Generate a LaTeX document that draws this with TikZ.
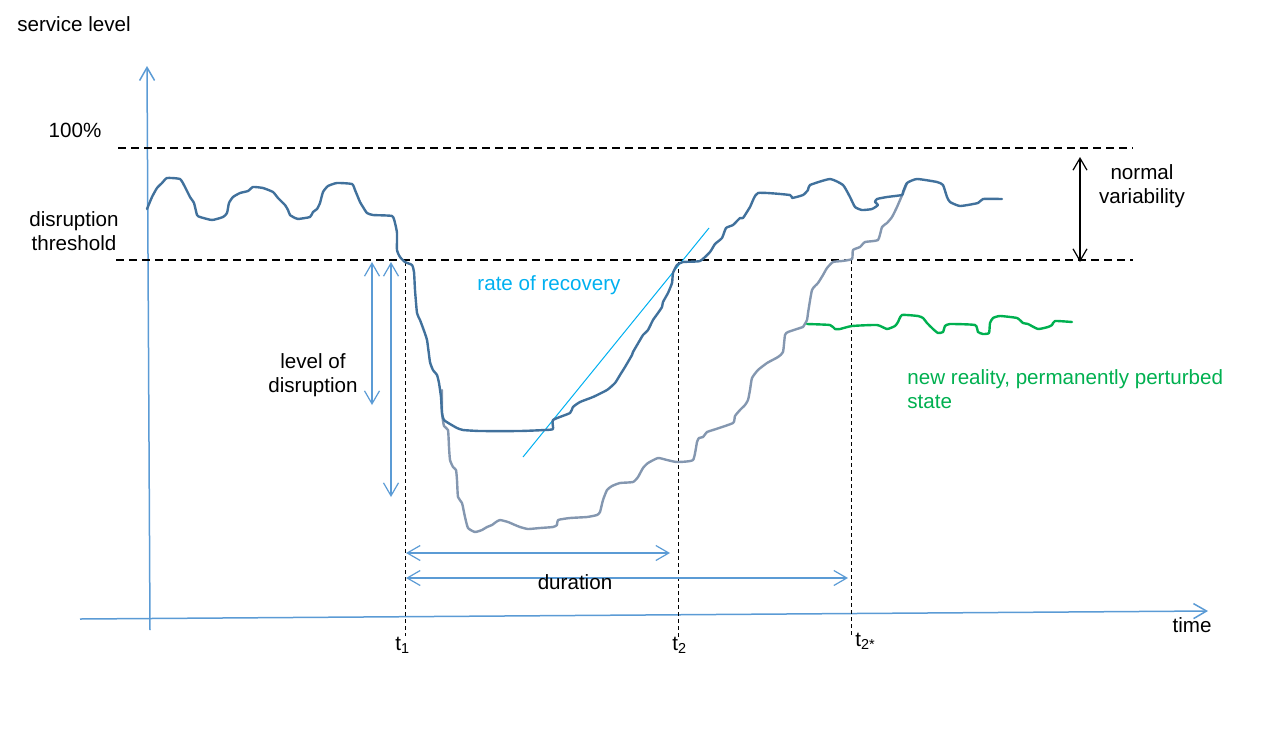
\documentclass[tikz,border=0pt]{standalone}
\usepackage{fontspec}
\setmainfont{Liberation Sans}
\usetikzlibrary{arrows.meta,positioning}
\definecolor{axisblue}{HTML}{5B9BD5}
\definecolor{curveblue}{HTML}{41719C}
\definecolor{curvegrey}{HTML}{8497B0}
\definecolor{recoverycyan}{HTML}{00B0F0}
\definecolor{realitygreen}{HTML}{00B050}
\tikzset{font=\fontsize{10.3}{12}\selectfont}
\tikzset{every node/.append style={inner sep=0pt, align=center}}

\begin{document}
\begin{tikzpicture}[x=0.5pt, y=-0.5pt,
  axis/.style={axisblue, line width=.75pt, -{Straight Barb[length=6.5pt, width=7.5pt]}},
  dimarrow/.style={axisblue, line width=.6pt, {Straight Barb[length=6.5pt, width=7.5pt]}-{Straight Barb[length=6.5pt, width=7.5pt]}},
  level/.style={black, line width=1pt, dash pattern=on 4pt off 2.5pt},
  marker/.style={black, line width=.5pt, dash pattern=on 2pt off 1.5pt},
  curve/.style={line width=1.2pt, line join=round, line cap=round}]
\useasboundingbox (0,0) rectangle (1269,729);

\coordinate (yfoot) at (150,630);
\coordinate (ytop) at (147,66);
\coordinate (xfoot) at (80,619);
\coordinate (xend) at (1208,611);
\draw[axis] (yfoot) -- (ytop);
\draw[axis] (xfoot) -- (xend);

\coordinate (full-l) at (118,148);
\coordinate (full-r) at (1133,148);
\coordinate (thr-l) at (116,260);
\coordinate (thr-r) at (1133,260);
\draw[level] (full-l) -- (full-r);
\draw[level] (thr-l) -- (thr-r);

\coordinate (t1-top) at (405,262);
\coordinate (t1-foot) at (405,636);
\coordinate (t2-top) at (678,262);
\coordinate (t2-foot) at (678,638);
\coordinate (t2s-top) at (851,260);
\coordinate (t2s-foot) at (851,636);
\draw[marker] (t1-top) -- (t1-foot);
\draw[marker] (t2-top) -- (t2-foot);
\draw[marker] (t2s-top) -- (t2s-foot);

\coordinate (dis-a) at (372,262);
\coordinate (dis-b) at (372,405);
\coordinate (dis-c) at (391,262);
\coordinate (dis-d) at (391,497);
\draw[dimarrow] (dis-a) -- (dis-b);
\draw[dimarrow] (dis-c) -- (dis-d);

\coordinate (dur-a) at (406,553);
\coordinate (dur-b) at (670,553);
\coordinate (dur-c) at (406,578);
\coordinate (dur-d) at (848,578);
\draw[dimarrow] (dur-a) -- (dur-b);
\draw[dimarrow] (dur-c) -- (dur-d);

\coordinate (var-a) at (1080,157);
\coordinate (var-b) at (1080,262);
\draw[black, line width=.6pt, {Straight Barb[length=6pt, width=7pt]}-{Straight Barb[length=6pt, width=7pt]}] (var-a) -- (var-b);

\coordinate (rec-a) at (523,457);
\coordinate (rec-b) at (709,228);
\draw[recoverycyan, line width=.5pt] (rec-a) -- (rec-b);

\draw[curve, curvegrey] plot[smooth, tension=.3] coordinates {(442,390) (442,413) (444,426) (448,430) (449,447) (450,460) (453,467) (456,470) (457,480) (458,497) (462,503) (465,517) (468,528) (475,532) (482,530) (487,527) (492,525) (496,522) (500,520) (508,522) (515,525) (520,527) (528,529) (540,528) (553,527) (557,525) (558,520) (570,518) (587,517) (597,515) (600,512) (603,500) (607,490) (612,486) (620,483) (633,482) (638,477) (643,468) (648,463) (658,458) (667,460) (677,462) (693,460) (697,442) (699,438) (703,437) (707,432) (713,430) (733,423) (735,416) (740,410) (745,405) (748,400) (750,390) (752,378) (758,370) (767,363) (778,357) (783,352) (785,335) (788,332) (800,328) (803,327) (807,320) (808,313) (812,290) (818,283) (823,275) (827,268) (833,262) (842,261) (852,259) (853,250) (860,247) (865,242) (878,240) (882,227) (887,223) (892,217) (897,207) (903,193) (907,183)};

\draw[curve, curveblue] plot[smooth, tension=.3] coordinates {(147,209) (152,197) (157,188) (162,183) (167,178) (180,179) (185,187) (190,197) (194,203) (197,215) (200,217) (212,220) (223,217) (227,213) (229,203) (233,197) (240,193) (248,191) (253,187) (263,188) (273,192) (278,198) (285,205) (288,210) (290,215) (295,218) (298,219) (310,217) (313,212) (317,209) (320,203) (323,192) (328,186) (337,183) (352,184) (355,190) (360,202) (363,207) (367,213) (373,215) (392,216) (395,223) (397,233) (397,250) (400,257) (405,262) (412,265) (414,272) (415,290) (417,313) (420,320) (423,328) (427,340) (430,362) (433,370) (437,375) (439,383) (441,397) (442,413) (444,420) (450,424) (457,428) (463,430) (480,431) (520,431) (545,430) (553,429) (553,420) (570,413) (573,407) (580,402) (593,397) (607,390) (615,383) (620,375) (625,367) (632,355) (633,352) (640,340) (643,335) (648,330) (653,320) (658,313) (662,307) (663,302) (668,293) (672,283) (673,273) (677,265) (683,262) (700,261) (710,252) (715,244) (722,238) (726,228) (733,225) (740,218) (743,218) (750,207) (758,193) (790,195) (792,198) (803,195) (808,190) (810,185) (830,179) (843,185) (850,197) (855,207) (862,210) (872,209) (878,205) (875,202) (877,199) (887,197) (902,195) (903,192) (907,183) (917,179) (937,182) (943,185) (947,197) (950,202) (960,206) (978,203) (983,199) (1002,199)};

\draw[curve, realitygreen] plot[smooth, tension=.3] coordinates {(807,324) (830,325) (835,329) (840,329) (852,326) (877,325) (887,329) (895,326) (898,322) (902,315) (918,316) (923,318) (927,323) (933,329) (938,333) (943,332) (945,326) (950,324) (975,325) (978,332) (983,334) (989,333) (990,323) (993,318) (1000,316) (1017,318) (1023,323) (1028,324) (1038,329) (1048,327) (1052,325) (1055,321) (1072,322)};

\node (svclabel) at (74,24) {service level};
\node (fulllabel) at (75,130) {100\%};
\node (thrlabel) at (74,231) {disruption\\threshold};
\node (varlabel) at (1142,186) {normal\\variability};
\node (dislabel) at (313,375) {level of\\disruption};
\node[recoverycyan] (reclabel) at (549,285) {rate of recovery};
\node[realitygreen, align=left, anchor=west] (newlabel) at (907,389) {new reality, permanently perturbed\\state};
\node (durlabel) at (575,582) {duration};
\node (timelabel) at (1192,625) {time};
\node[anchor=base west] (t1label) at (395,650) {t\textsubscript{1}};
\node[anchor=base west] (t2label) at (672,650) {t\textsubscript{2}};
\node[anchor=base west] (t2slabel) at (855,646) {t\textsubscript{2*}};
\end{tikzpicture}
\end{document}
